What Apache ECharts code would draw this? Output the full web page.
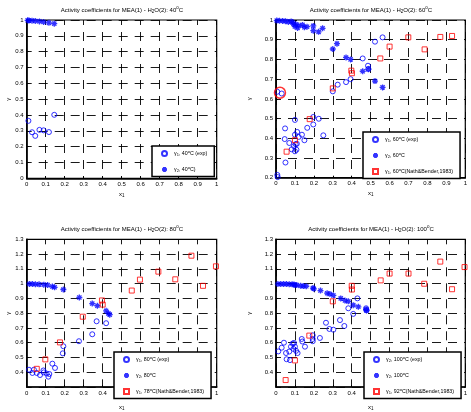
<!DOCTYPE html>
<html>
<head>
<meta charset="utf-8">
<script src="https://cdn.jsdelivr.net/npm/echarts@6/dist/echarts.min.js"></script>
<style>html,body{margin:0;padding:0;background:#fff}#c{width:471px;height:412px}</style>
</head>
<body>
<div id="c"></div>
<script>
// ---------- Panel 1 : 40 °C ----------
var p1ExpX = [0.009, 0.028, 0.045, 0.067, 0.089, 0.117, 0.145];
var p1ExpY = [0.363, 0.291, 0.268, 0.306, 0.303, 0.292, 0.401];
var p1G2X  = [0.005, 0.012, 0.028, 0.045, 0.067, 0.089, 0.117, 0.145];
var p1G2Y  = [0.998, 0.997, 0.996, 0.994, 0.991, 0.987, 0.982, 0.977];

// ---------- Panel 2 : 60 °C ----------
var p2ExpX = [0.007, 0.009, 0.007, 0.03, 0.048, 0.046, 0.05, 0.07, 0.083, 0.1, 0.108, 0.104, 0.095, 0.11, 0.1, 0.1, 0.112, 0.12, 0.137, 0.15, 0.165, 0.197, 0.197, 0.226, 0.25, 0.3, 0.326, 0.37, 0.394, 0.458, 0.486, 0.488, 0.523, 0.563];
var p2ExpY = [0.214, 0.203, 0.636, 0.627, 0.45, 0.396, 0.277, 0.376, 0.344, 0.334, 0.342, 0.37, 0.36, 0.372, 0.418, 0.493, 0.432, 0.407, 0.418, 0.39, 0.453, 0.47, 0.508, 0.499, 0.415, 0.638, 0.672, 0.685, 0.70, 0.805, 0.768, 0.752, 0.89, 0.912];
var p2G2X  = [0.004, 0.018, 0.035, 0.05, 0.065, 0.08, 0.088, 0.092, 0.1, 0.105, 0.114, 0.12, 0.14, 0.15, 0.164, 0.197, 0.197, 0.225, 0.246, 0.3, 0.322, 0.37, 0.394, 0.458, 0.488, 0.523, 0.563];
var p2G2Y  = [0.997, 0.996, 0.995, 0.994, 0.99, 0.993, 0.988, 0.98, 0.967, 0.978, 0.96, 0.972, 0.975, 0.963, 0.966, 0.97, 0.946, 0.94, 0.958, 0.853, 0.88, 0.81, 0.80, 0.74, 0.75, 0.69, 0.658];
var p2NbX  = [0.056, 0.1, 0.178, 0.3, 0.398, 0.401, 0.551, 0.6, 0.699, 0.785, 0.868, 0.93];
var p2NbY  = [0.332, 0.39, 0.497, 0.653, 0.743, 0.73, 0.805, 0.865, 0.912, 0.851, 0.914, 0.919];
var p2MarkX = [0.021];
var p2MarkY = [0.631];

// ---------- Panel 3 : 80 °C ----------
var p3ExpX = [0.012, 0.03, 0.038, 0.053, 0.07, 0.088, 0.09, 0.105, 0.114, 0.119, 0.135, 0.149, 0.19, 0.193, 0.275, 0.345, 0.368, 0.418];
var p3ExpY = [0.417, 0.395, 0.417, 0.395, 0.381, 0.412, 0.399, 0.391, 0.37, 0.388, 0.458, 0.429, 0.528, 0.576, 0.61, 0.657, 0.745, 0.732];
var p3G2X  = [0.014, 0.03, 0.046, 0.065, 0.09, 0.11, 0.135, 0.147, 0.193, 0.277, 0.345, 0.372, 0.418, 0.43, 0.437];
var p3G2Y  = [0.998, 0.997, 0.996, 0.995, 0.993, 0.99, 0.98, 0.975, 0.96, 0.906, 0.865, 0.85, 0.816, 0.798, 0.79];
var p3NbX  = [0.053, 0.098, 0.175, 0.295, 0.396, 0.4, 0.553, 0.596, 0.693, 0.782, 0.867, 0.928, 0.996];
var p3NbY  = [0.423, 0.487, 0.602, 0.776, 0.886, 0.858, 0.953, 1.027, 1.081, 1.029, 1.189, 0.985, 1.117];

// ---------- Panel 4 : 100 °C ----------
var p4ExpX = [0.012, 0.03, 0.042, 0.053, 0.056, 0.074, 0.07, 0.079, 0.088, 0.095, 0.1, 0.092, 0.106, 0.114, 0.136, 0.139, 0.153, 0.194, 0.194, 0.194, 0.232, 0.264, 0.282, 0.303, 0.338, 0.361, 0.382, 0.408, 0.43, 0.476, 0.478];
var p4ExpY = [0.541, 0.566, 0.6, 0.53, 0.488, 0.482, 0.54, 0.573, 0.594, 0.598, 0.573, 0.558, 0.545, 0.53, 0.625, 0.608, 0.573, 0.65, 0.625, 0.61, 0.632, 0.735, 0.693, 0.688, 0.753, 0.713, 0.833, 0.795, 0.9, 0.833, 0.82];
var p4G2X  = [0.01, 0.025, 0.04, 0.055, 0.07, 0.085, 0.095, 0.1, 0.11, 0.13, 0.145, 0.16, 0.195, 0.2, 0.235, 0.27, 0.285, 0.303, 0.342, 0.364, 0.382, 0.408, 0.435, 0.476, 0.478];
var p4G2Y  = [0.997, 0.997, 0.997, 0.997, 0.996, 0.995, 0.994, 0.99, 0.99, 0.985, 0.983, 0.982, 0.97, 0.965, 0.953, 0.935, 0.93, 0.92, 0.9, 0.886, 0.88, 0.854, 0.843, 0.826, 0.818];
var p4NbX  = [0.051, 0.1, 0.176, 0.3, 0.4, 0.401, 0.553, 0.6, 0.7, 0.783, 0.868, 0.93, 0.996];
var p4NbY  = [0.347, 0.48, 0.648, 0.88, 0.985, 0.96, 1.022, 1.068, 1.068, 0.999, 1.149, 0.962, 1.112];

// ---------- axis / text ----------
var xTicks = { min: 0, max: 1, interval: 0.1 };
var yRanges = [[0, 1], [0.2, 1], [0.3, 1.3], [0.3, 1.3]];
var temps = ['40', '60', '80', '100'];
var legendLabels = {
  p1a: 'γ{sub|1}, 40{sup|o}C (exp)',
  p1b: 'γ{sub|2}, 40{sup|o}C)',
  p2a: 'γ{sub|1}, 60{sup|o}C (exp)',
  p2b: 'γ{sub|2}, 60{sup|o}C',
  p2c: 'γ{sub|1}, 60{sup|o}C(Nath&Bender,1983)',
  p3a: 'γ{sub|1}, 80{sup|o}C (exp)',
  p3b: 'γ{sub|2}, 80{sup|o}C',
  p3c: 'γ{sub|1}, 78{sup|o}C(Nath&Bender,1983)',
  p4a: 'γ{sub|2}, 100{sup|o}C (exp)',
  p4b: 'γ{sub|2}, 100{sup|o}C',
  p4c: 'γ{sub|1}, 92{sup|o}C(Nath&Bender,1983)'
};

function pts(xs, ys) { return xs.map(function (x, i) { return [x, ys[i]]; }); }

var FONT = 'Liberation Sans';
var BLUE = '#0000ff', RED = '#ff0000';
var rich = {
  sub: { fontSize: 4.5, fontFamily: FONT, padding: [3, 0, 0, 0] },
  sup: { fontSize: 4.5, fontFamily: FONT, padding: [0, 0, 5, 0] }
};
var legRich = {
  sub: { fontSize: 4, fontFamily: FONT, padding: [2, 0, 0, 0] },
  sup: { fontSize: 4, fontFamily: FONT, padding: [0, 0, 4, 0] }
};
var STAR = 'path://M5,0L5,10M0,5L10,5M1.5,1.5L8.5,8.5M1.5,8.5L8.5,1.5';

var grids = [
  { left: 26.7, top: 20, width: 190, height: 158.3 },
  { left: 276, top: 20, width: 189.3, height: 157.7 },
  { left: 26.7, top: 239.3, width: 190, height: 158.5 },
  { left: 276, top: 239.3, width: 189.3, height: 158.5 }
];
var titlePos = [[122, 5], [371, 5], [122, 224], [371, 224]];
var yNameGap = [14, 24, 15, 24];
var xNameGap = [12, 12, 16, 16];

var dash = { color: '#000', width: 0.9, type: [9, 7], dashOffset: 4 };

var option = {
  animation: false,
  backgroundColor: '#fff',
  textStyle: { fontFamily: FONT },
  title: temps.map(function (t, i) {
    return {
      text: 'Activity coefficients for MEA(1) - H{sub|2}O(2): ' + t + '{sup|o}C',
      left: titlePos[i][0], top: titlePos[i][1], textAlign: 'center',
      padding: 0,
      textStyle: { fontSize: 6, fontWeight: 'normal', color: '#000', fontFamily: FONT, rich: rich }
    };
  }),
  grid: grids.map(function (g) {
    return Object.assign({ show: true, borderColor: '#000', borderWidth: 1.2, backgroundColor: '#fff' }, g);
  }),
  xAxis: grids.map(function (g, i) {
    return {
      type: 'value', gridIndex: i, min: xTicks.min, max: xTicks.max, interval: xTicks.interval,
      name: 'x{sub|1}', nameLocation: 'middle', nameGap: xNameGap[i],
      nameTextStyle: { fontSize: 6, color: '#000', fontFamily: FONT, rich: rich },
      axisLine: { show: true, lineStyle: { color: '#000', width: 1.6 } },
      axisTick: { show: true, inside: true, length: 2, lineStyle: { color: '#000' } },
      axisLabel: { fontSize: 6, color: '#000', margin: 3, fontFamily: FONT,
        formatter: function (v) { return String(+v.toFixed(1)); } },
      splitLine: { show: true, lineStyle: dash }
    };
  }),
  yAxis: grids.map(function (g, i) {
    return {
      type: 'value', gridIndex: i, min: yRanges[i][0], max: yRanges[i][1], interval: 0.1,
      name: 'γ', nameLocation: 'middle', nameGap: yNameGap[i], nameRotate: 90,
      nameTextStyle: { fontSize: 6, color: '#000', fontFamily: FONT },
      axisLine: { show: true, lineStyle: { color: '#000', width: 1.6 } },
      axisTick: { show: true, inside: true, length: 2, lineStyle: { color: '#000' } },
      axisLabel: { fontSize: 6, color: '#000', margin: 3, fontFamily: FONT,
        showMinLabel: i < 2,
        formatter: function (v) { return String(+v.toFixed(1)); } },
      splitLine: { show: true, lineStyle: dash }
    };
  }),
  legend: [
    { ids: ['p1a', 'p1b'], left: 152, top: 146 },
    { ids: ['p2a', 'p2b', 'p2c'], left: 363, top: 132 },
    { ids: ['p3a', 'p3b', 'p3c'], left: 114, top: 352 },
    { ids: ['p4a', 'p4b', 'p4c'], left: 364, top: 352 }
  ].map(function (l) {
    return {
      data: l.ids, left: l.left, top: l.top, orient: 'vertical',
      itemWidth: 5, itemHeight: 5, itemGap: 8.5,
      padding: [3.5, 7, 3.5, 9],
      backgroundColor: '#fff', borderColor: '#000', borderWidth: 1.5,
      selectedMode: false,
      textStyle: { fontSize: 5.3, color: '#000', fontFamily: FONT, rich: legRich, padding: [0, 0, 0, 2] },
      formatter: function (n) { return legendLabels[n]; }
    };
  }),
  series: []
};

function circ(name, i, xs, ys) {
  return { type: 'scatter', name: name, xAxisIndex: i, yAxisIndex: i, data: pts(xs, ys),
    symbol: 'circle', symbolSize: 5, z: 3,
    itemStyle: { color: 'rgba(255,255,255,0)', borderColor: BLUE, borderWidth: 1 } };
}
function star(name, i, xs, ys) {
  return { type: 'scatter', name: name, xAxisIndex: i, yAxisIndex: i, data: pts(xs, ys),
    symbol: STAR, symbolSize: 6, z: 3,
    itemStyle: { color: BLUE, borderColor: BLUE, borderWidth: 1.3 } };
}
function sq(name, i, xs, ys) {
  return { type: 'scatter', name: name, xAxisIndex: i, yAxisIndex: i, data: pts(xs, ys),
    symbol: 'rect', symbolSize: 5, z: 3,
    itemStyle: { color: 'rgba(255,255,255,0)', borderColor: RED, borderWidth: 1 } };
}

option.series.push(
  circ('p1a', 0, p1ExpX, p1ExpY), star('p1b', 0, p1G2X, p1G2Y),
  circ('p2a', 1, p2ExpX, p2ExpY), star('p2b', 1, p2G2X, p2G2Y), sq('p2c', 1, p2NbX, p2NbY),
  { type: 'scatter', name: 'mark', xAxisIndex: 1, yAxisIndex: 1, data: pts(p2MarkX, p2MarkY),
    symbol: 'circle', symbolSize: 11, z: 4,
    itemStyle: { color: 'rgba(255,255,255,0)', borderColor: RED, borderWidth: 1.5 } },
  circ('p3a', 2, p3ExpX, p3ExpY), star('p3b', 2, p3G2X, p3G2Y), sq('p3c', 2, p3NbX, p3NbY),
  circ('p4a', 3, p4ExpX, p4ExpY), star('p4b', 3, p4G2X, p4G2Y), sq('p4c', 3, p4NbX, p4NbY)
);

var chart = echarts.init(document.getElementById('c'), null, { renderer: 'canvas' });
chart.setOption(option);
</script>
</body>
</html>
